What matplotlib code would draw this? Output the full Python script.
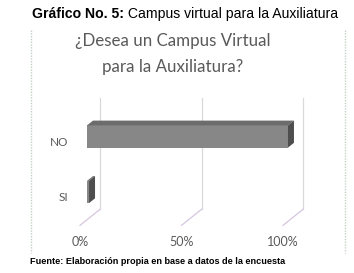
import matplotlib
matplotlib.use("Agg")
import matplotlib.pyplot as plt
from matplotlib.patches import Polygon
from matplotlib.lines import Line2D

# ---- data ----
categories = ["SI", "NO"]
values = [1, 99]          # percent
tick_values = [0, 50, 100]
tick_labels = ["0%", "50%", "100%"]
header_bold = "Gráfico No. 5:"
header_rest = " Campus virtual para la Auxiliatura"
title_lines = ["¿Desea un Campus Virtual", "para la Auxiliatura?"]
source = "Fuente: Elaboración propia en base a datos de la encuesta"

W, H = 354, 273
fig = plt.figure(figsize=(W / 100, H / 100), dpi=100)
fig.patch.set_facecolor("white")

def fx(px):
    return px / W

def fy(py):
    return 1 - py / H

# ---- axes geometry (pixel scale) ----
ppu = 2.03          # px per percent
x0px = 80           # px of 0% at front floor
cpu = 55.5          # px per category unit
y0px = 197.6        # px of category 0 center at front
left_px, right_px, top_px, bot_px = 40, 340, 90, 250
ax = fig.add_axes([fx(left_px), fy(bot_px), (right_px - left_px) / W, (bot_px - top_px) / H])
ax.set_xlim((left_px - x0px) / ppu, (right_px - x0px) / ppu)
ax.set_ylim((y0px - bot_px) / cpu, (y0px - top_px) / cpu)
ax.axis("off")

DX = 20 / ppu
DY = 16 / cpu

def P(x, y, d):
    return (x + d * DX, y + d * DY)

ymin, ymax = -0.5, 1.5
# back wall gridlines and floor lines
for t in tick_values:
    ax.add_line(Line2D(*zip(P(t, ymin, 1), P(t, ymax, 1)), color="#d9d9d9", lw=0.9, zorder=1))
    ax.add_line(Line2D(*zip(P(t, ymin, 0), P(t, ymin, 1)), color="#d6c6df", lw=0.9, zorder=1))

# bars
h = 0.4
d0, d1 = 0.35, 0.65
for k, (cat, v) in enumerate(zip(categories, values)):
    lo, hi = k - h / 2, k + h / 2
    front = [P(0, lo, d0), P(v, lo, d0), P(v, hi, d0), P(0, hi, d0)]
    top = [P(0, hi, d0), P(v, hi, d0), P(v, hi, d1), P(0, hi, d1)]
    side = [P(v, lo, d0), P(v, hi, d0), P(v, hi, d1), P(v, lo, d1)]
    ax.add_patch(Polygon(front, closed=True, facecolor="#878787", edgecolor="none", zorder=3))
    ax.add_patch(Polygon(top, closed=True, facecolor="#6c6c6c", edgecolor="none", zorder=3))
    ax.add_patch(Polygon(side, closed=True, facecolor="#4e4e4e", edgecolor="none", zorder=3))
    ax.annotate(cat, xy=P(0, k, 0), xytext=(-8.6, 0), textcoords="offset points",
                ha="right", va="center", fontsize=8.5, family="Lato", color="#595959")

for t, lab in zip(tick_values, tick_labels):
    ax.annotate(lab, xy=P(t, ymin, 0), xytext=(0, -12), textcoords="offset points",
                ha="center", va="center", fontsize=9, family="Lato", color="#595959")

# chart border (dotted left/right)
for xpx in (31, 345):
    fig.add_artist(Line2D([fx(xpx), fx(xpx)], [fy(30), fy(253)], transform=fig.transFigure,
                          color="#c4cfc4", lw=1.0, ls=(0, (1, 1))))

# title (two centered lines)
for i, line in enumerate(title_lines):
    fig.text(fx(173), fy(46 + 26 * i), line, ha="center", va="baseline", fontsize=12.2,
             family="Lato", color="#595959")

# header
t1 = fig.text(fx(32), fy(18), header_bold, ha="left", va="baseline", fontsize=10.1,
              family="Liberation Sans", weight="bold", color="black")
fig.canvas.draw()
bb = t1.get_window_extent()
fig.text(bb.x1 / W, fy(18), header_rest, ha="left", va="baseline", fontsize=10.1,
         family="Liberation Sans", color="black")

# source
fig.text(fx(30), fy(262), source, ha="left", va="center", fontsize=6.6,
         family="Liberation Sans", weight="bold", color="black")

fig.savefig("out.png", dpi=100, facecolor="white")
